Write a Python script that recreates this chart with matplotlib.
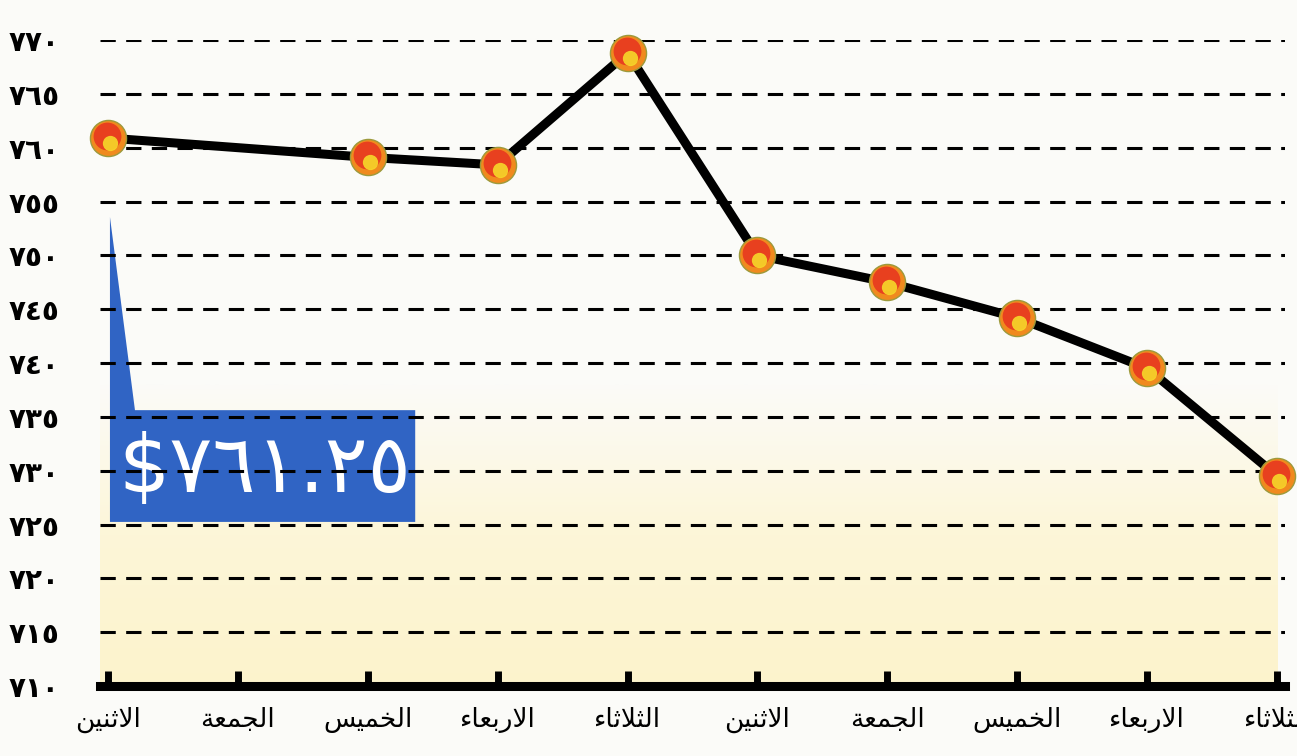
import numpy as np
import matplotlib
matplotlib.use('Agg')
import matplotlib.pyplot as plt
from matplotlib.transforms import offset_copy
from matplotlib.patches import Polygon

# data
days = ['الاثنين', 'الجمعة', 'الخميس', 'الاربعاء', 'الثلاثاء',
        'الاثنين', 'الجمعة', 'الخميس', 'الاربعاء', 'الثلاثاء']
prices = [760.9, np.nan, 759.1, 758.4, 768.8, 750.0, 747.5, 744.2, 739.5, 729.5]
yticks = [710, 715, 720, 725, 730, 735, 740, 745, 750, 755, 760, 765, 770]
callout = '$٧٦١.٢٥'

# arabic letters -> (isolated, final, initial, medial)
FORMS = {
    'ء': ('\uFE80', None, None, None),
    'ا': ('\uFE8D', '\uFE8E', None, None),
    'ب': ('\uFE8F', '\uFE90', '\uFE91', '\uFE92'),
    'ة': ('\uFE93', '\uFE94', None, None),
    'ث': ('\uFE99', '\uFE9A', '\uFE9B', '\uFE9C'),
    'ج': ('\uFE9D', '\uFE9E', '\uFE9F', '\uFEA0'),
    'خ': ('\uFEA5', '\uFEA6', '\uFEA7', '\uFEA8'),
    'ر': ('\uFEAD', '\uFEAE', None, None),
    'س': ('\uFEB1', '\uFEB2', '\uFEB3', '\uFEB4'),
    'ع': ('\uFEC9', '\uFECA', '\uFECB', '\uFECC'),
    'ل': ('\uFEDD', '\uFEDE', '\uFEDF', '\uFEE0'),
    'م': ('\uFEE1', '\uFEE2', '\uFEE3', '\uFEE4'),
    'ن': ('\uFEE5', '\uFEE6', '\uFEE7', '\uFEE8'),
    'ي': ('\uFEF1', '\uFEF2', '\uFEF3', '\uFEF4'),
    'لا': ('\uFEFB', '\uFEFC', None, None),
}


def shape(word):
    # matplotlib has no arabic shaping, so do it by hand
    units = []
    i = 0
    while i < len(word):
        if word[i:i + 2] == 'لا':
            units.append('لا')
            i += 2
        else:
            units.append(word[i])
            i += 1
    out = []
    n = len(units)
    for k, c in enumerate(units):
        if c not in FORMS:
            out.append(c)
            continue
        iso, fin, ini, med = FORMS[c]
        prev = units[k - 1] if k > 0 else None
        nxt = units[k + 1] if k < n - 1 else None
        join_prev = prev in FORMS and FORMS[prev][2] is not None and fin is not None
        join_next = nxt in FORMS and ini is not None and FORMS[nxt][1] is not None
        if join_prev and join_next:
            out.append(med)
        elif join_prev:
            out.append(fin)
        elif join_next:
            out.append(ini)
        else:
            out.append(iso)
    return ''.join(reversed(out))


def indic(n):
    return str(n).translate(str.maketrans('0123456789', '٠١٢٣٤٥٦٧٨٩'))


plt.rcParams['font.family'] = ['DejaVu Sans']

fig = plt.figure(figsize=(12.97, 7.56), dpi=100)
fig.patch.set_facecolor('#fbfbf8')
ax = fig.add_axes([100 / 1297, 70 / 756, 1185 / 1297, 646 / 756])
ax.set_facecolor('none')

x = np.arange(len(days))
y = np.array(prices)
ok = ~np.isnan(y)

ax.set_xlim(-0.06, 9.06)
ax.set_ylim(710, 770)

# pale yellow wash at the bottom
grad = np.linspace(0, 1, 256).reshape(-1, 1)
cmap = matplotlib.colors.LinearSegmentedColormap.from_list(
    'w', ['#fcf3cc', '#fdf6d8', '#fbfbf8'])
ax.imshow(grad, cmap=cmap, extent=[-0.06, 9.0, 710, 738], origin='lower',
          aspect='auto', zorder=0, interpolation='bilinear')

# blue callout box
box = Polygon([(0.0084, 0.726), (0.0295, 0.427), (0.266, 0.427), (0.266, 0.254),
               (0.0084, 0.254)], closed=True, transform=ax.transAxes,
              facecolor='#3064c4', edgecolor='none', zorder=1)
ax.add_patch(box)
ax.text(0.139, 0.335, callout, transform=ax.transAxes, color='white',
        fontsize=58, ha='center', va='center', zorder=1.5)

# dashed grid
for t in yticks[1:]:
    ax.axhline(t, color='black', lw=2.2, linestyle=(0, (5.0, 3.4)), zorder=2)

# line and markers
ax.plot(x[ok], y[ok], color='black', lw=6.5, zorder=3, solid_capstyle='round')
ax.plot(x[ok], y[ok], 'o', ms=26, mfc='#f08a1e', mec='#9c9a3c', mew=1,
        zorder=4, clip_on=False)
ax.plot(x[ok], y[ok], 'o', ms=20, mfc='#e8401f', mec='none', zorder=5, clip_on=False,
        transform=offset_copy(ax.transData, fig=fig, x=-1, y=2, units='dots'))
ax.plot(x[ok], y[ok], 'o', ms=11, mfc='#f6d92a', mec='none', alpha=0.9, zorder=6,
        clip_on=False,
        transform=offset_copy(ax.transData, fig=fig, x=2, y=-5, units='dots'))

ax.set_xticks(x)
ax.set_xticklabels([shape(d) for d in days], fontsize=19)
ax.set_yticks(yticks)
ax.set_yticklabels([indic(t) for t in yticks], fontsize=20, fontweight='bold',
                   ha='left')

ax.tick_params(axis='x', direction='in', length=11, width=5, pad=15, color='black')
ax.tick_params(axis='y', length=0, pad=66)
for s in ['top', 'right', 'left']:
    ax.spines[s].set_visible(False)
ax.spines['bottom'].set_linewidth(6.5)
ax.spines['bottom'].set_zorder(7)

fig.savefig('out.png', dpi=100, facecolor=fig.get_facecolor())
